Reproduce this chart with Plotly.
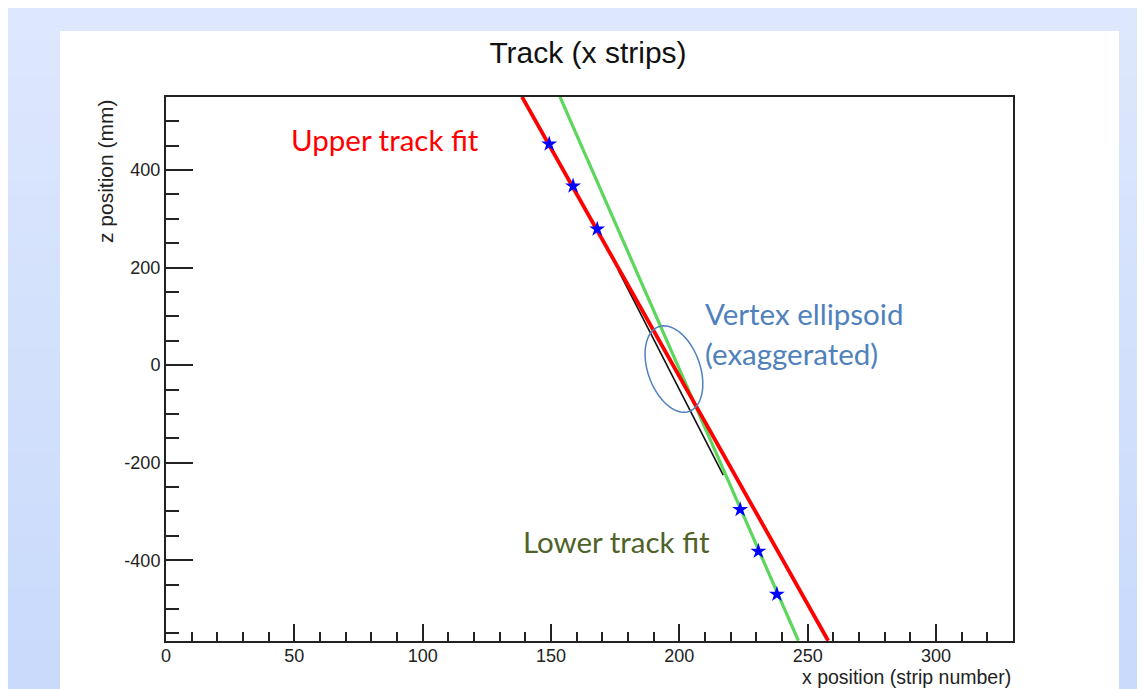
import numpy as np
import plotly.graph_objects as go

# ---------------- data ----------------
upper_fit_x = [138.7, 258.0]          # strip number
upper_fit_z = [550.0, -565.0]         # mm
lower_fit_x = [153.5, 246.4]
lower_fit_z = [550.0, -565.0]
vertex_line_x = [176.2, 217.1]
vertex_line_z = [195.0, -225.6]
hits_x = [149.3, 158.6, 168.0, 223.7, 230.8, 238.0]
hits_z = [453.3, 367.2, 279.0, -296.0, -381.5, -469.7]

x_range = [0, 330]
z_range = [-565.5, 549.7]
z_tickvals = [-400, -200, 0, 200, 400]
z_ticktext = ["-400", "-200", "0", "200", "400"]

# ---------------- geometry helpers ----------------
# the page body adds an 8 px margin, so the figure is drawn 8 px smaller
OFF = 8
W, H = 1145 - OFF, 689 - OFF
L, R, T, B = 166 - OFF, 132, 97 - OFF, 48
PW, PH = W - L - R, H - T - B

def px_to_paper_x(px):
    # px given in window pixels
    return (px - OFF - L) / PW

def px_to_paper_y(py):
    return (H - B - (py - OFF)) / PH

sx = PW / (x_range[1] - x_range[0])
sy = PH / (z_range[1] - z_range[0])

fig = go.Figure()

fig.add_trace(go.Scatter(x=vertex_line_x, y=vertex_line_z, mode="lines",
                         line=dict(color="#111111", width=1.6), showlegend=False))
fig.add_trace(go.Scatter(x=lower_fit_x, y=lower_fit_z, mode="lines",
                         line=dict(color="#5cd65c", width=3.2), showlegend=False))
fig.add_trace(go.Scatter(x=upper_fit_x, y=upper_fit_z, mode="lines",
                         line=dict(color="#ff0000", width=3.8), showlegend=False))
fig.add_trace(go.Scatter(x=hits_x, y=hits_z, mode="markers",
                         marker=dict(symbol="star", size=12, color="#0000ff",
                                     line=dict(width=0)), showlegend=False))

# ---------------- background (slide gradient + white panel) ----------------
shapes = []
n_strips = 40
top_c = np.array([0xde, 0xe8, 0xfe])
bot_c = np.array([0xc9, 0xda, 0xfb])
for i in range(n_strips):
    y0 = OFF + H * i / n_strips
    y1 = OFF + H * (i + 1) / n_strips + 1
    c = top_c + (bot_c - top_c) * (i + 0.5) / n_strips
    shapes.append(dict(type="rect", xref="paper", yref="paper", layer="below",
                       x0=px_to_paper_x(0), x1=px_to_paper_x(1150),
                       y0=px_to_paper_y(y0), y1=px_to_paper_y(y1),
                       line=dict(width=0),
                       fillcolor="rgb(%d,%d,%d)" % tuple(int(v) for v in c)))
shapes.append(dict(type="rect", xref="paper", yref="paper", layer="below",
                   x0=px_to_paper_x(60), x1=px_to_paper_x(1119),
                   y0=px_to_paper_y(31), y1=px_to_paper_y(700),
                   line=dict(width=0), fillcolor="white"))

# ---------------- vertex ellipse (annotation) ----------------
ell_cx, ell_cz = 197.9, -8.0      # data coords of centre
a_px, b_px, theta = 45.0, 26.0, np.deg2rad(20)
t = np.linspace(0, 2 * np.pi, 80)
ux = a_px * np.cos(t) * np.sin(theta) + b_px * np.sin(t) * np.cos(theta)
uy = -a_px * np.cos(t) * np.cos(theta) + b_px * np.sin(t) * np.sin(theta)
ex = ell_cx + ux / sx
ez = ell_cz + uy / sy
path = "M " + " L ".join("%.3f,%.3f" % (a, b) for a, b in zip(ex, ez)) + " Z"
shapes.append(dict(type="path", xref="x", yref="y", path=path,
                   line=dict(color="#4f81bd", width=1.5), layer="above"))

# ---------------- annotations ----------------
callout_font = "Lato, 'Open Sans', sans-serif"
CS = 29.5
annotations = [
    dict(text="Upper track fit", x=47.9, y=463.6, xref="x", yref="y",
         xanchor="left", yanchor="middle", showarrow=False,
         font=dict(family=callout_font, size=CS, color="#ff0000")),
    dict(text="Vertex ellipsoid", x=209.3, y=106.7, xref="x", yref="y",
         xanchor="left", yanchor="middle", showarrow=False,
         font=dict(family=callout_font, size=CS, color="#4f81bd")),
    dict(text="(exaggerated)", x=209.3, y=24.6, xref="x", yref="y",
         xanchor="left", yanchor="middle", showarrow=False,
         font=dict(family=callout_font, size=CS, color="#4f81bd")),
    dict(text="Lower track fit", x=138.3, y=-361.0, xref="x", yref="y",
         xanchor="left", yanchor="middle", showarrow=False,
         font=dict(family=callout_font, size=CS, color="#4f6228")),
    dict(text="z position (mm)", textangle=-90, x=px_to_paper_x(105), y=1.0,
         xref="paper", yref="paper", xanchor="center", yanchor="top",
         showarrow=False,
         font=dict(family="Liberation Sans, Arial", size=21, color="#222222")),
    dict(text="x position (strip number)", x=1.0, y=px_to_paper_y(677),
         xref="paper", yref="paper", xanchor="right", yanchor="middle",
         showarrow=False,
         font=dict(family="Liberation Sans, Arial", size=19.5, color="#222222")),
]

axis_common = dict(showline=True, mirror=True, linecolor="#222222", linewidth=2,
                   showgrid=False, zeroline=False, ticks="inside",
                   tickcolor="#222222", tickwidth=2,
                   tickfont=dict(family="Liberation Sans, Arial", size=18,
                                 color="#222222"))

fig.update_layout(
    width=W, height=H,
    margin=dict(l=L, r=R, t=T, b=B),
    paper_bgcolor="#d6e2fc",
    plot_bgcolor="rgba(0,0,0,0)",
    title=dict(text="Track (x strips)", x=px_to_paper_x(588), xref="paper",
               y=1 - (52 - OFF) / H, yref="container", xanchor="center",
               yanchor="middle",
               font=dict(family="Liberation Sans, Arial", size=30, color="#111111")),
    xaxis=dict(range=x_range, tick0=0, dtick=50, ticklen=17,
               ticklabelstandoff=-3,
               minor=dict(ticks="inside", dtick=10, tick0=0, ticklen=9,
                          tickcolor="#222222", tickwidth=2),
               **axis_common),
    yaxis=dict(range=z_range, tickvals=z_tickvals, ticktext=z_ticktext,
               ticklen=27,
               minor=dict(ticks="inside", dtick=50, tick0=0, ticklen=13,
                          tickcolor="#222222", tickwidth=2),
               **axis_common),
    shapes=shapes,
    annotations=annotations,
)

fig.write_html("out.html")
